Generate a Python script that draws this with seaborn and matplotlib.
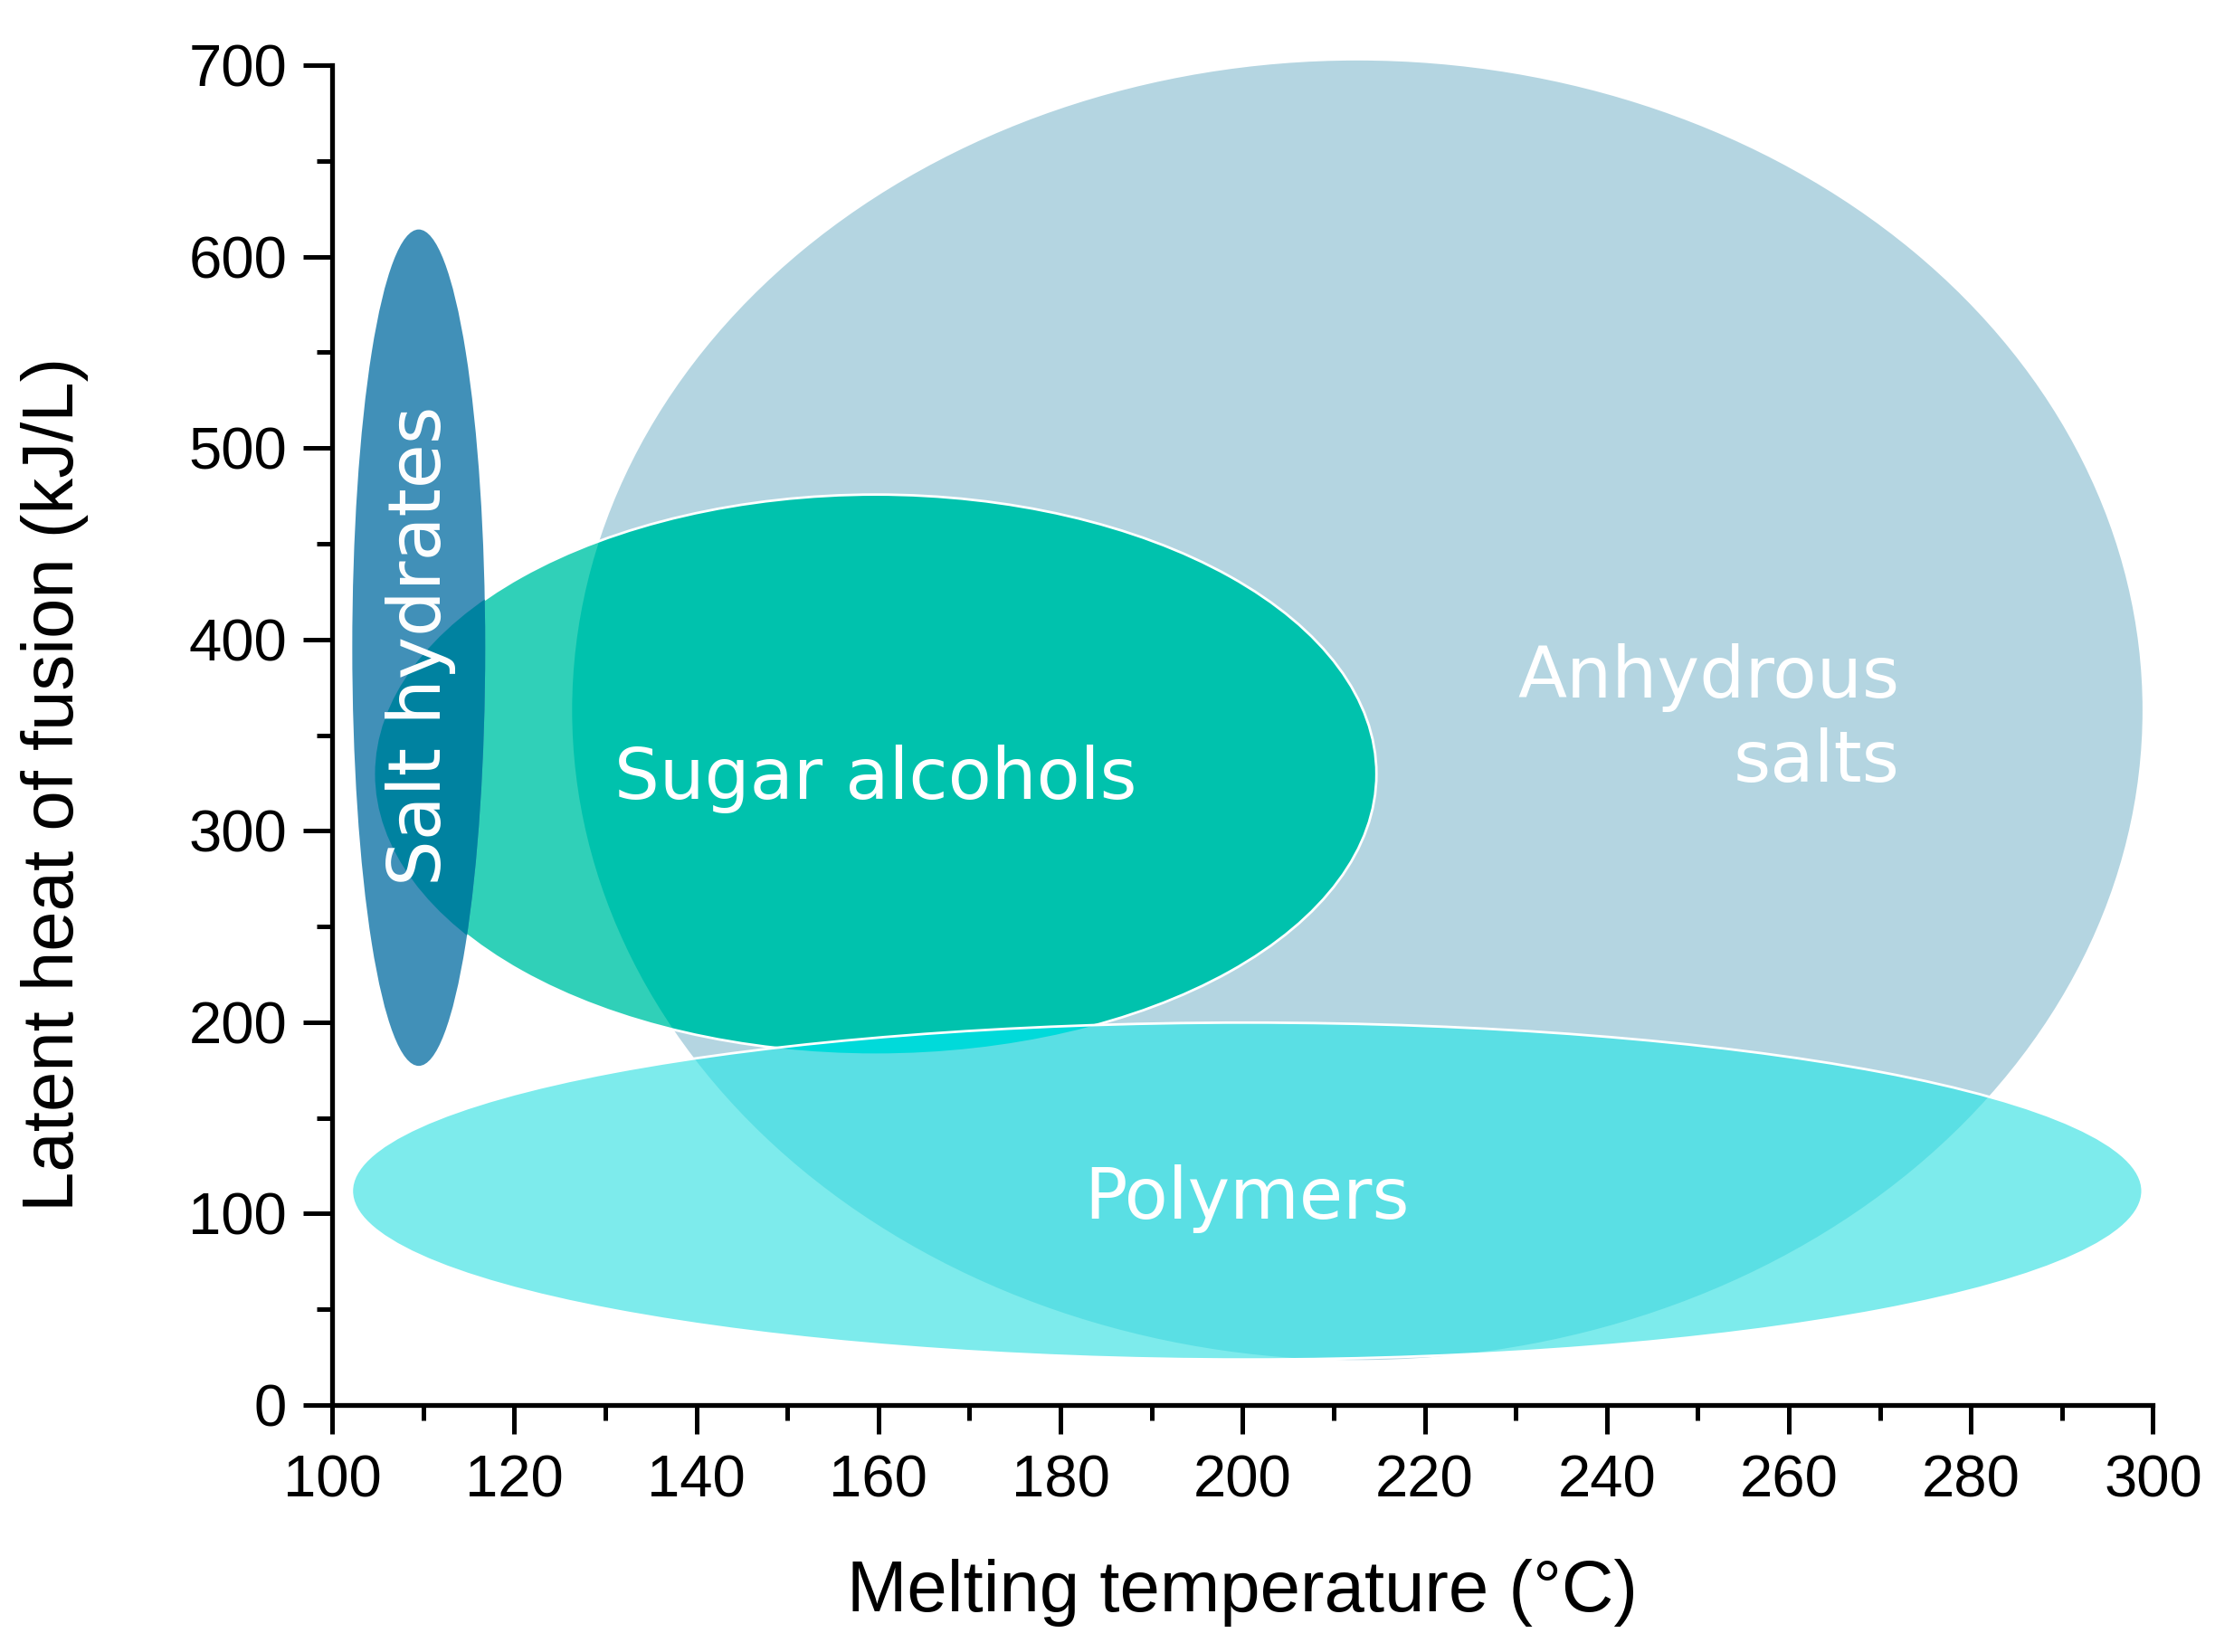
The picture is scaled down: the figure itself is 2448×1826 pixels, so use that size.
import numpy as np
import pandas as pd
import matplotlib
matplotlib.use("Agg")
import matplotlib.pyplot as plt
from matplotlib.patches import Ellipse
import seaborn as sns

# ---- data (ellipse extents in data units) ----
groups = ["Anhydrous salts", "Sugar alcohols", "Salt hydrates", "Polymers"]
center_x = [212.6, 159.7, 109.5, 200.5]   # melting temperature (°C)
center_y = [363.0, 329.7, 395.7, 111.8]   # latent heat (kJ/L)
width_x = [172.5, 110.0, 14.6, 196.7]
height_y = [679.0, 292.0, 437.0, 176.0]

label_text = ["Anhydrous\nsalts", "Sugar alcohols", "Salt hydrates", "Polymers"]
label_x = [272.2, 159.7, 109.7, 200.5]
label_y = [358.0, 327.0, 396.8, 108.0]

x_ticks = [100, 120, 140, 160, 180, 200, 220, 240, 260, 280, 300]
y_ticks = [0, 100, 200, 300, 400, 500, 600, 700]

df = pd.DataFrame({"group": groups, "cx": center_x, "cy": center_y,
                   "w": width_x, "h": height_y,
                   "label": label_text, "lx": label_x, "ly": label_y})

sns.set_theme(style="ticks")
plt.rcParams["font.family"] = ["Liberation Sans", "DejaVu Sans"]

fig = plt.figure(figsize=(12.24, 9.13), dpi=200)
ax = fig.add_axes([0.150, 0.1495, 0.822, 0.811])
ax.set_xlim(100, 300)
ax.set_ylim(0, 700)

rec = {r.group: r for r in df.itertuples()}


def ell(name, **kw):
    r = rec[name]
    return Ellipse((r.cx, r.cy), r.w, r.h, transform=ax.transData, **kw)


def add(name, **kw):
    p = ell(name, **kw)
    ax.add_patch(p)
    p.set_clip_on(False)
    return p


def clip_fill(name, clip_name, color, z):
    p = ell(name, facecolor=color, edgecolor="none", zorder=z)
    p.set_clip_path(ell(clip_name))
    ax.add_patch(p)
    return p


# Anhydrous salts
add("Anhydrous salts", facecolor="#b4d5e1", edgecolor="none", zorder=1)
# Sugar alcohols
add("Sugar alcohols", facecolor="#30d0b8", edgecolor="none", zorder=2)
clip_fill("Sugar alcohols", "Anhydrous salts", "#00c2ad", 2.1)
add("Sugar alcohols", facecolor="none", edgecolor="white", lw=1.0, zorder=2.2)
# Salt hydrates
add("Salt hydrates", facecolor="#4190b8", edgecolor="none", zorder=3)
clip_fill("Salt hydrates", "Sugar alcohols", "#0082a0", 3.1)
# Polymers
add("Polymers", facecolor="#7debec", edgecolor="none", zorder=4)
clip_fill("Polymers", "Anhydrous salts", "#5adfe4", 4.1)
clip_fill("Polymers", "Sugar alcohols", "#00dada", 4.2)
add("Polymers", facecolor="none", edgecolor="white", lw=1.0, zorder=4.3)

# labels
lab_font = dict(family="DejaVu Sans", color="white", zorder=10)
for r in df.itertuples():
    if r.group == "Salt hydrates":
        ax.text(r.lx, r.ly, r.label, rotation=90, ha="center", va="center",
                fontsize=28.7, **lab_font)
    elif r.group == "Anhydrous salts":
        ax.text(r.lx, r.ly, r.label, ha="right", va="center", linespacing=1.28,
                fontsize=28.5, **lab_font)
    else:
        ax.text(r.lx, r.ly, r.label, ha="center", va="center",
                fontsize=28.3, **lab_font)

# axes styling
ax.set_xticks(x_ticks)
ax.set_yticks(y_ticks)
ax.set_xticks(np.arange(110, 300, 20), minor=True)
ax.set_yticks(np.arange(50, 700, 100), minor=True)
ax.tick_params(which="major", direction="out", length=11.5, width=1.8,
               labelsize=23.5, colors="black", pad=6.5)
ax.tick_params(which="minor", direction="out", length=6, width=1.8, colors="black")
ax.tick_params(axis="x", which="major", pad=8)
for s in ["left", "bottom"]:
    ax.spines[s].set_linewidth(1.9)
    ax.spines[s].set_color("black")
sns.despine(ax=ax)
ax.set_facecolor("white")
fig.patch.set_facecolor("white")

ax.set_xlabel("Melting temperature (°C)", fontsize=28.7, labelpad=20, color="black")
ax.set_ylabel("Latent heat of fusion (kJ/L)", fontsize=28.7, color="black")
ax.yaxis.set_label_coords(-0.134, 0.4636)

fig.savefig("out.png", dpi=200, facecolor="white")
